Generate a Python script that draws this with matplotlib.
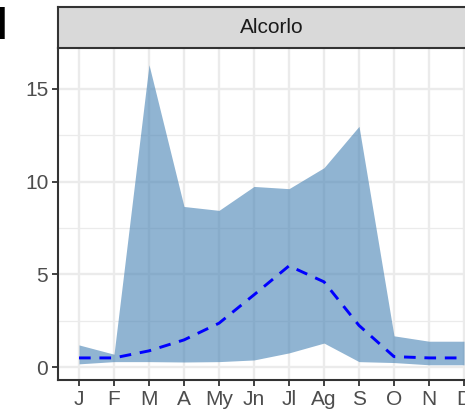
import matplotlib.pyplot as plt
from matplotlib.ticker import MultipleLocator

plt.rcParams['font.family'] = ['Liberation Sans', 'DejaVu Sans']

months = ['J', 'F', 'M', 'A', 'My', 'Jn', 'Jl', 'Ag', 'S', 'O', 'N', 'D']
upper = [1.2, 0.7, 16.3, 8.66, 8.45, 9.74, 9.62, 10.75, 12.98, 1.69, 1.4, 1.4]
lower = [0.18, 0.3, 0.3, 0.28, 0.3, 0.39, 0.77, 1.3, 0.3, 0.25, 0.13, 0.13]
mean = [0.5, 0.5, 0.88, 1.47, 2.37, 3.9, 5.46, 4.6, 2.25, 0.57, 0.5, 0.5]

W, H = 465, 412
fig = plt.figure(figsize=(W / 100, H / 100), dpi=100)

# panel runs past the right edge of the figure
left, right, bottom, top = 58, 485, 380, 48
ax = fig.add_axes([left / W, 1 - bottom / H, (right - left) / W, (bottom - top) / H])
x = list(range(len(months)))

ax.fill_between(x, lower, upper, color='steelblue', alpha=0.6, linewidth=0, zorder=2)
ax.plot(x, mean, color='blue', lw=2.1, dashes=(4, 3), zorder=3)

ax.set_xlim(-0.6, 11.6)
ax.set_ylim(-0.69, 17.2)
ax.set_xticks(x)
ax.set_xticklabels(months)
ax.yaxis.set_major_locator(MultipleLocator(5))
ax.yaxis.set_minor_locator(MultipleLocator(2.5))

ax.grid(which='major', color='#EBEBEB', lw=1.7, zorder=0)
ax.grid(which='minor', axis='y', color='#EBEBEB', lw=0.9, zorder=0)
ax.set_axisbelow(True)

ax.tick_params(which='major', length=4.5, width=1.3, color='#333333',
               labelsize=15, labelcolor='#4D4D4D', pad=2.5)
ax.tick_params(which='minor', length=0)
for s in ['left', 'bottom']:
    ax.spines[s].set_color('#333333')
    ax.spines[s].set_linewidth(1.5)
for s in ['top', 'right']:
    ax.spines[s].set_visible(False)

# facet strip
strip = fig.add_axes([left / W, 1 - top / H, (right - left) / W, 41 / H])
strip.set_facecolor('#D9D9D9')
strip.set_xticks([])
strip.set_yticks([])
for s in strip.spines.values():
    s.set_color('#333333')
    s.set_linewidth(1.5)
strip.text(0.5, 0.5, 'Alcorlo', ha='center', va='center', fontsize=15,
           color='#1A1A1A', transform=strip.transAxes)

fig.text(-0.012, 1 - 27 / H, 'I', fontsize=33, fontweight='bold',
         ha='left', va='center', color='black')

fig.savefig('out.png', dpi=100)
